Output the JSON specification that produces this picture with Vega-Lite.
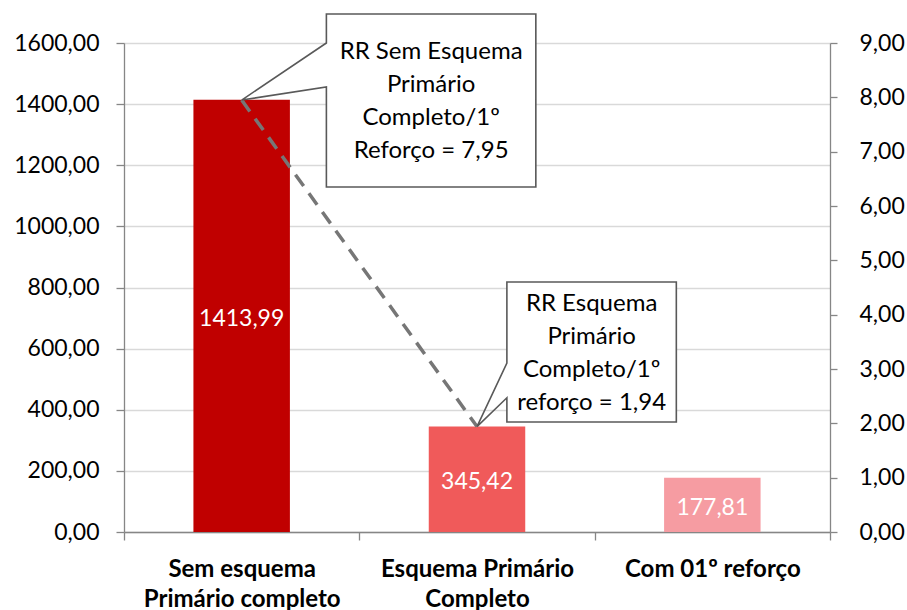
{
  "$schema": "https://vega.github.io/schema/vega-lite/v6.json",
  "width": 706,
  "height": 489,
  "autosize": {"type": "none"},
  "padding": {"left": 124, "top": 43, "right": 77, "bottom": 78},
  "background": "white",
  "config": {
    "font": "Lato",
    "view": {"stroke": null},
    "locale": {"number": {"decimal": ",", "thousands": ".", "grouping": [3], "currency": ["R$", ""]}},
    "axis": {"labelFont": "Lato", "labelFontSize": 23, "labelColor": "#000000", "domainColor": "#868686", "tickColor": "#868686", "domainWidth": 1.3, "tickWidth": 1.3, "gridColor": "#D9D9D9", "gridWidth": 1.3, "title": null, "labelLimit": 0}
  },
  "datasets": {
    "bars": [
      {"cat": "Sem esquema|Primário completo", "v": 1413.99},
      {"cat": "Esquema Primário|Completo", "v": 345.42},
      {"cat": "Com 01º reforço", "v": 177.81}
    ],
    "dash": [
      {"x": 0.5, "y": 7.95},
      {"x": 1.5, "y": 1.94}
    ],
    "boxes": [
      {"id": 1, "x": 0.86, "x2": 1.75, "y": 9.534, "y2": 6.35},
      {"id": 2, "x": 1.627, "x2": 2.347, "y": 4.601, "y2": 2.025}
    ],
    "paths": [
      {"id": 1, "o": 0, "x": 0.5, "y": 7.95},
      {"id": 1, "o": 1, "x": 0.86, "y": 9.0},
      {"id": 1, "o": 2, "x": 0.86, "y": 9.534},
      {"id": 1, "o": 3, "x": 1.75, "y": 9.534},
      {"id": 1, "o": 4, "x": 1.75, "y": 6.35},
      {"id": 1, "o": 5, "x": 0.86, "y": 6.35},
      {"id": 1, "o": 6, "x": 0.86, "y": 8.19},
      {"id": 1, "o": 7, "x": 0.5, "y": 7.95},
      {"id": 2, "o": 0, "x": 1.5, "y": 1.94},
      {"id": 2, "o": 1, "x": 1.627, "y": 3.11},
      {"id": 2, "o": 2, "x": 1.627, "y": 4.601},
      {"id": 2, "o": 3, "x": 2.347, "y": 4.601},
      {"id": 2, "o": 4, "x": 2.347, "y": 2.025},
      {"id": 2, "o": 5, "x": 1.627, "y": 2.025},
      {"id": 2, "o": 6, "x": 1.627, "y": 2.47},
      {"id": 2, "o": 7, "x": 1.5, "y": 1.94}
    ],
    "texts": [
      {"x": 1.305, "y": 8.83, "t": "RR Sem Esquema\nPrimário\nCompleto/1º\nReforço = 7,95"},
      {"x": 1.987, "y": 4.19, "t": "RR Esquema\nPrimário\nCompleto/1º\nreforço = 1,94"}
    ]
  },
  "layer": [
    {
      "data": {"name": "bars"},
      "encoding": {
        "x": {
          "field": "cat", "type": "nominal", "sort": null,
          "scale": {"paddingInner": 0, "paddingOuter": 0},
          "axis": {"labelAngle": 0, "labelFontWeight": "bold", "labelFontSize": 24, "labelExpr": "split(datum.label, '|')", "labelLineHeight": 30, "tickBand": "extent", "tickSize": 8, "labelPadding": 17, "labelBaseline": "top"}
        }
      },
      "layer": [
        {
          "mark": {"type": "bar", "width": {"band": 0.41}},
          "encoding": {
            "y": {
              "field": "v", "type": "quantitative",
              "scale": {"domain": [0, 1600], "nice": false},
              "axis": {"orient": "left", "values": [0, 200, 400, 600, 800, 1000, 1200, 1400, 1600], "format": ".2f", "tickSize": 8, "labelPadding": 17, "grid": true}
            },
            "color": {"field": "cat", "type": "nominal", "sort": null, "legend": null,
              "scale": {"domain": ["Sem esquema|Primário completo", "Esquema Primário|Completo", "Com 01º reforço"], "range": ["#C00000", "#F05A5A", "#F69CA2"]}}
          }
        },
        {
          "mark": {"type": "text", "color": "white", "fontSize": 23, "font": "Lato", "baseline": "middle", "align": "center", "dy": 3},
          "encoding": {
            "y": {"field": "v", "type": "quantitative", "scale": {"domain": [0, 3200], "nice": false}, "axis": null},
            "text": {"field": "v", "type": "quantitative", "format": ".2f"}
          }
        }
      ],
      "resolve": {"scale": {"y": "independent"}, "axis": {"y": "independent"}}
    },
    {
      "encoding": {
        "x": {"field": "x", "type": "quantitative", "scale": {"domain": [0, 3], "nice": false, "zero": false}, "axis": null},
        "y": {"field": "y", "type": "quantitative", "scale": {"domain": [0, 9], "nice": false},
          "axis": {"orient": "right", "values": [0, 1, 2, 3, 4, 5, 6, 7, 8, 9], "format": ".2f", "tickSize": 7, "labelPadding": 22, "grid": false}}
      },
      "layer": [
        {
          "data": {"name": "dash"},
          "mark": {"type": "line", "color": "#767676", "strokeWidth": 3.5, "strokeDash": [14, 9]},
          "encoding": {}
        },
        {
          "data": {"name": "boxes"},
          "mark": {"type": "rect", "fill": "white", "stroke": null},
          "encoding": {"x2": {"field": "x2"}, "y2": {"field": "y2"}}
        },
        {
          "data": {"name": "paths"},
          "mark": {"type": "line", "color": "#595959", "strokeWidth": 1.6},
          "encoding": {"detail": {"field": "id", "type": "nominal"}, "order": {"field": "o", "type": "quantitative"}}
        },
        {
          "data": {"name": "texts"},
          "mark": {"type": "text", "fontSize": 24, "font": "Lato", "color": "#000000", "align": "center", "baseline": "middle", "lineBreak": "\n", "lineHeight": 33},
          "encoding": {"text": {"field": "t"}}
        }
      ]
    }
  ],
  "resolve": {"scale": {"x": "independent", "y": "independent"}, "axis": {"y": "independent"}}
}
